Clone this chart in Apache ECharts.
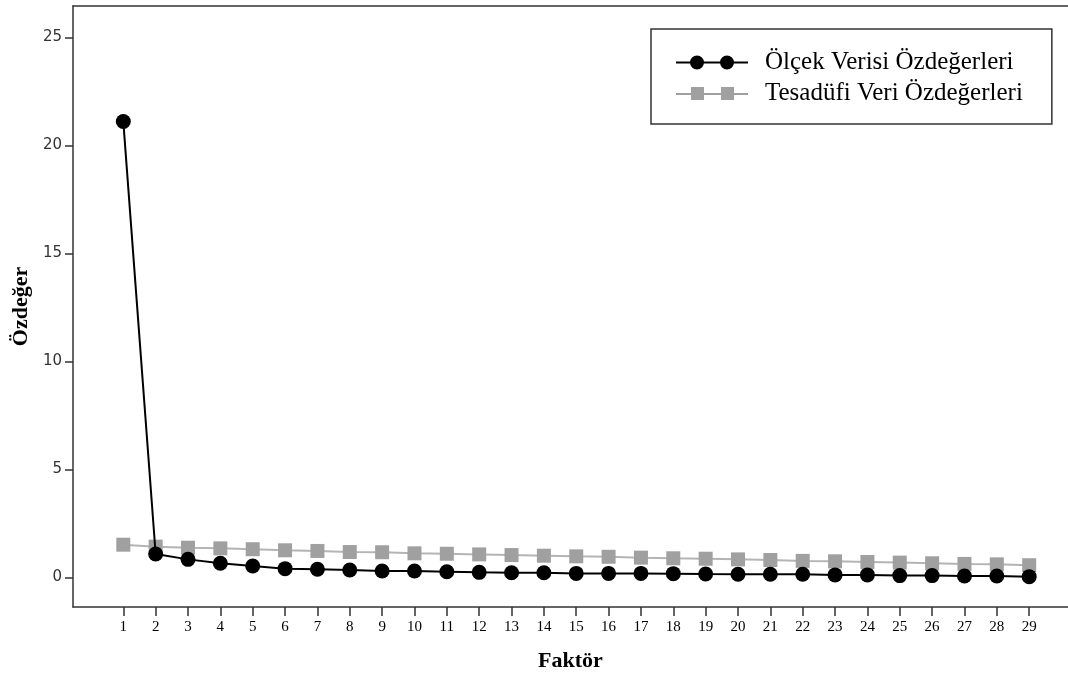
<!DOCTYPE html>
<html>
<head>
<meta charset="utf-8">
<script src="https://cdn.jsdelivr.net/npm/echarts@6/dist/echarts.min.js"></script>
<style>
  html, body { margin: 0; padding: 0; background: #fff; }
  #chart { width: 1068px; height: 675px; }
</style>
</head>
<body>
<div id="chart"></div>
<script>
var factors = [1, 2, 3, 4, 5, 6, 7, 8, 9, 10, 11, 12, 13, 14, 15, 16, 17, 18, 19, 20, 21, 22, 23, 24, 25, 26, 27, 28, 29];
var scaleEigen = [21.1, 1.08, 0.83, 0.65, 0.52, 0.40, 0.37, 0.34, 0.29, 0.29, 0.26, 0.23, 0.21, 0.21, 0.18, 0.18, 0.18, 0.17,
  0.15, 0.14, 0.14, 0.14, 0.11, 0.11, 0.08, 0.08, 0.06, 0.06, 0.03];
var randomEigen = [1.51, 1.42, 1.37, 1.34, 1.30, 1.25, 1.22, 1.17, 1.16, 1.11, 1.09, 1.06, 1.03, 1.00, 0.97, 0.95, 0.91, 0.88,
  0.86, 0.83, 0.80, 0.76, 0.74, 0.71, 0.68, 0.65, 0.62, 0.60, 0.56];
var yTicks = [0, 5, 10, 15, 20, 25];
var seriesNames = ['Ölçek Verisi Özdeğerleri', 'Tesadüfi Veri Özdeğerleri'];

function pairs(vals) {
  return factors.map(function (f, i) { return [f, vals[i]]; });
}

// legend icons: a line with two markers
var circleIcon = 'path://M0,6 L72,6 L72,8 L0,8 Z M14,7 A7,7 0 1 1 28,7 A7,7 0 1 1 14,7 Z M44,7 A7,7 0 1 1 58,7 A7,7 0 1 1 44,7 Z';
var squareIcon = 'path://M0,6 L72,6 L72,8 L0,8 Z M15,0 L28,0 L28,13 L15,13 Z M45,0 L58,0 L58,13 L45,13 Z';

var myChart = echarts.init(document.getElementById('chart'));
myChart.setOption({
  backgroundColor: '#fff',
  animation: false,
  grid: { left: 73, right: 0, top: 6, bottom: 68, outerBoundsMode: 'none', containLabel: false },
  legend: {
    orient: 'vertical',
    left: 651, top: 29,
    padding: [21, 29, 18, 25],
    itemGap: 6,
    itemWidth: 72, itemHeight: 14,
    borderColor: '#333', borderWidth: 1.5,
    textStyle: { fontFamily: 'Liberation Serif', fontSize: 25, color: '#000', padding: [0, 0, 0, 12] },
    data: [
      { name: seriesNames[0], icon: circleIcon },
      { name: seriesNames[1], icon: squareIcon }
    ]
  },
  xAxis: [{
    type: 'value',
    min: -0.555, max: 30.2,
    name: 'Faktör',
    nameLocation: 'middle',
    nameGap: 43,
    nameTextStyle: { fontFamily: 'Liberation Serif', fontWeight: 'bold', fontSize: 22, color: '#000' },
    splitLine: { show: false },
    axisLine: { onZero: false, lineStyle: { color: '#333', width: 1.5 } },
    axisTick: { customValues: factors, length: 9, lineStyle: { color: '#333', width: 1.5 } },
    axisLabel: { customValues: factors, margin: 13, fontFamily: 'Liberation Serif', fontSize: 15, color: '#000' }
  }, {
    // top frame line
    type: 'value',
    position: 'top',
    min: -0.555, max: 30.2,
    splitLine: { show: false },
    axisLine: { onZero: false, lineStyle: { color: '#333', width: 1.5 } },
    axisTick: { show: false },
    axisLabel: { show: false }
  }],
  yAxis: {
    type: 'value',
    min: -1.375, max: 26.45,
    name: 'Özdeğer',
    nameLocation: 'middle',
    nameGap: 39,
    nameTextStyle: { fontFamily: 'Liberation Serif', fontWeight: 'bold', fontSize: 22, color: '#000' },
    splitLine: { show: false },
    axisLine: { onZero: false, lineStyle: { color: '#333', width: 1.5 } },
    axisTick: { customValues: yTicks, length: 8, lineStyle: { color: '#333', width: 1.5 } },
    axisLabel: { customValues: yTicks, margin: 11, fontFamily: 'DejaVu Sans', fontSize: 15, color: '#333' }
  },
  series: [
    {
      name: seriesNames[1],
      type: 'line',
      data: pairs(randomEigen),
      symbol: 'rect',
      symbolSize: 14,
      lineStyle: { color: '#b4b4b4', width: 2 },
      itemStyle: { color: '#a0a0a0' },
      z: 2
    },
    {
      name: seriesNames[0],
      type: 'line',
      data: pairs(scaleEigen),
      symbol: 'circle',
      symbolSize: 15,
      lineStyle: { color: '#000', width: 2 },
      itemStyle: { color: '#000' },
      z: 3
    }
  ]
});
</script>
</body>
</html>
